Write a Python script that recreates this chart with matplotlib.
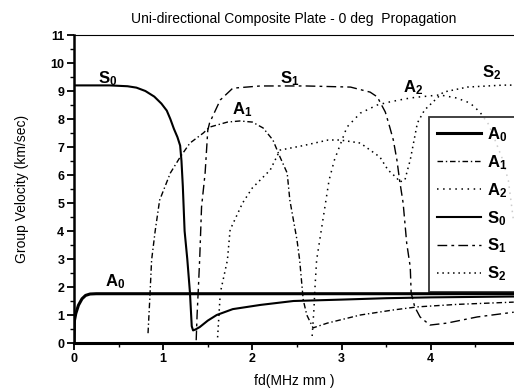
import matplotlib
matplotlib.use("Agg")
import matplotlib.pyplot as plt
from matplotlib.ticker import MultipleLocator

plt.rcParams['font.family'] = ['Liberation Sans', 'DejaVu Sans']
plt.rcParams['mathtext.fontset'] = 'custom'
plt.rcParams['mathtext.rm'] = 'Liberation Sans'
plt.rcParams['mathtext.bf'] = 'Liberation Sans:bold'

# ---- data (fd in MHz mm, group velocity in km/sec) ----
A0_x = [0.0, 0.005, 0.02, 0.05, 0.09, 0.13, 0.18, 0.25, 4.93]
A0_y = [0.0, 0.8, 1.05, 1.35, 1.58, 1.70, 1.75, 1.76, 1.76]

S0_x = [0.0, 0.4, 0.6, 0.7, 0.8, 0.9, 0.98, 1.04, 1.08, 1.12, 1.16, 1.19, 1.205,
        1.22, 1.24, 1.27, 1.28, 1.30, 1.32, 1.335, 1.36, 1.41, 1.5, 1.6, 1.78,
        2.09, 2.46, 3.0, 3.5, 4.0, 4.93]
S0_y = [9.2, 9.2, 9.17, 9.12, 9.0, 8.8, 8.55, 8.3, 8.0, 7.65, 7.35, 7.05, 6.5,
        5.6, 4.0, 3.0, 2.6, 1.8, 0.6, 0.45, 0.48, 0.57, 0.8, 1.0, 1.21,
        1.36, 1.5, 1.55, 1.6, 1.63, 1.66]

A1_x = [0.83, 0.85, 0.87, 0.91, 0.96, 1.08, 1.19, 1.3, 1.45, 1.52, 1.72, 1.86,
        2.0, 2.12, 2.23, 2.31, 2.39, 2.42, 2.5, 2.53, 2.57, 2.61, 2.68, 2.84,
        3.21, 3.58, 3.85, 4.3, 4.93]
A1_y = [0.35, 1.6, 2.96, 4.0, 5.1, 6.07, 6.64, 7.14, 7.5, 7.71, 7.89, 7.93,
        7.89, 7.68, 7.25, 6.64, 6.07, 5.1, 3.68, 2.96, 1.54, 1.0, 0.54, 0.71,
        1.0, 1.18, 1.29, 1.38, 1.46]

S1_x = [1.37, 1.38, 1.395, 1.41, 1.43, 1.47, 1.5, 1.52, 1.64, 1.78, 2.09, 2.6,
        3.1, 3.32, 3.4, 3.49, 3.54, 3.58, 3.62, 3.65, 3.69, 3.73, 3.77, 3.78,
        3.82, 3.88, 3.99, 4.18, 4.52, 4.93]
S1_y = [0.1, 1.0, 2.0, 3.07, 4.86, 6.07, 7.6, 7.86, 8.68, 9.1, 9.18, 9.18,
        9.14, 8.96, 8.79, 8.25, 7.71, 7.25, 6.54, 5.82, 5.0, 3.57, 2.71, 1.79,
        1.29, 0.93, 0.64, 0.71, 0.93, 1.1]

A2_x = [2.67, 2.69, 2.70, 2.72, 2.79, 2.86, 2.92, 3.06, 3.21, 3.4, 3.54, 3.65,
        3.77, 3.88, 4.1, 4.29, 4.44, 4.55, 4.65, 4.72, 4.8, 4.87, 4.93]
A2_y = [0.25, 1.2, 1.89, 2.96, 4.39, 5.82, 6.54, 7.71, 8.21, 8.5, 8.61, 8.68,
        8.75, 8.79, 8.86, 8.75, 8.57, 8.25, 7.8, 7.25, 6.6, 5.8, 4.3]

S2_x = [1.61, 1.64, 1.72, 1.75, 1.89, 2.0, 2.2, 2.31, 2.57, 2.85, 2.98, 3.13,
        3.21, 3.43, 3.52, 3.62, 3.65, 3.71, 3.73, 3.77, 3.85, 3.93, 4.14, 4.41,
        4.81, 4.93]
S2_y = [0.2, 1.79, 2.96, 4.04, 5.0, 5.54, 6.18, 6.89, 7.05, 7.25, 7.25, 7.18,
        7.14, 6.64, 6.18, 5.89, 5.75, 5.82, 6.07, 6.54, 7.86, 8.32, 8.96, 9.14,
        9.21, 9.21]

mode_names = ['A0', 'A1', 'A2', 'S0', 'S1', 'S2']
legend_labels = [r'$\mathbf{A_0}$', r'$\mathbf{A_1}$', r'$\mathbf{A_2}$',
                 r'$\mathbf{S_0}$', r'$\mathbf{S_1}$', r'$\mathbf{S_2}$']

# curve labels: (text, x, y)
curve_labels = [
    (r'$\mathbf{S_0}$', 0.38, 9.1),
    (r'$\mathbf{S_1}$', 2.42, 9.1),
    (r'$\mathbf{A_1}$', 1.88, 8.0),
    (r'$\mathbf{A_2}$', 3.80, 8.8),
    (r'$\mathbf{S_2}$', 4.68, 9.32),
    (r'$\mathbf{A_0}$', 0.46, 1.86),
]

# ---- figure ----
fig = plt.figure(figsize=(5.14, 3.9), dpi=100)
ax = fig.add_axes([74/514, 47/390, 440/514, 308/390])

data = {
    'A0': (A0_x, A0_y), 'A1': (A1_x, A1_y), 'A2': (A2_x, A2_y),
    'S0': (S0_x, S0_y), 'S1': (S1_x, S1_y), 'S2': (S2_x, S2_y),
}
styles = {
    'A0': dict(ls='-', lw=2.2),
    'A1': dict(ls=(0, (4, 2, 1, 2)), lw=1.0),
    'A2': dict(ls=(0, (1, 3)), lw=1.1),
    'S0': dict(ls='-', lw=1.5),
    'S1': dict(ls=(0, (7, 3, 2, 3)), lw=1.0),
    'S2': dict(ls=(0, (1, 2.5)), lw=1.1),
}
for name, lab in zip(mode_names, legend_labels):
    x, y = data[name]
    ax.plot(x, y, color='black', label=lab, **styles[name])

for txt, x, y in curve_labels:
    ax.text(x, y, txt, fontsize=12, ha='center', va='bottom', color='black')

ax.set_xlim(0, 4.933)
ax.set_ylim(0, 11)
ax.xaxis.set_major_locator(MultipleLocator(1))
ax.xaxis.set_minor_locator(MultipleLocator(0.5))
ax.yaxis.set_major_locator(MultipleLocator(1))
ax.yaxis.set_minor_locator(MultipleLocator(0.5))
ax.tick_params(which='major', direction='out', length=5, width=1.3, labelsize=9, pad=2)
ax.tick_params(which='minor', direction='out', length=3, width=1.0)
for lbl in ax.get_xticklabels() + ax.get_yticklabels():
    lbl.set_fontweight('bold')

ax.spines['right'].set_visible(False)
ax.spines['top'].set_linewidth(0.8)
ax.spines['bottom'].set_linewidth(2.2)
ax.spines['left'].set_linewidth(1.8)

ax.set_title('Uni-directional Composite Plate - 0 deg  Propagation', fontsize=10, pad=9)
ax.set_xlabel('fd(MHz mm )', fontsize=10, labelpad=7)
ax.set_ylabel('Group Velocity (km/sec)', fontsize=10, labelpad=15)

leg = ax.legend(loc='upper left', bbox_to_anchor=(0.807, 0.734), fontsize=12,
                frameon=True, fancybox=False, edgecolor='black',
                handlelength=2.6, labelspacing=0.55, borderpad=0.5,
                handletextpad=0.4, borderaxespad=0)
leg.get_frame().set_linewidth(1.3)

fig.savefig('out.png', dpi=100, facecolor='white')
